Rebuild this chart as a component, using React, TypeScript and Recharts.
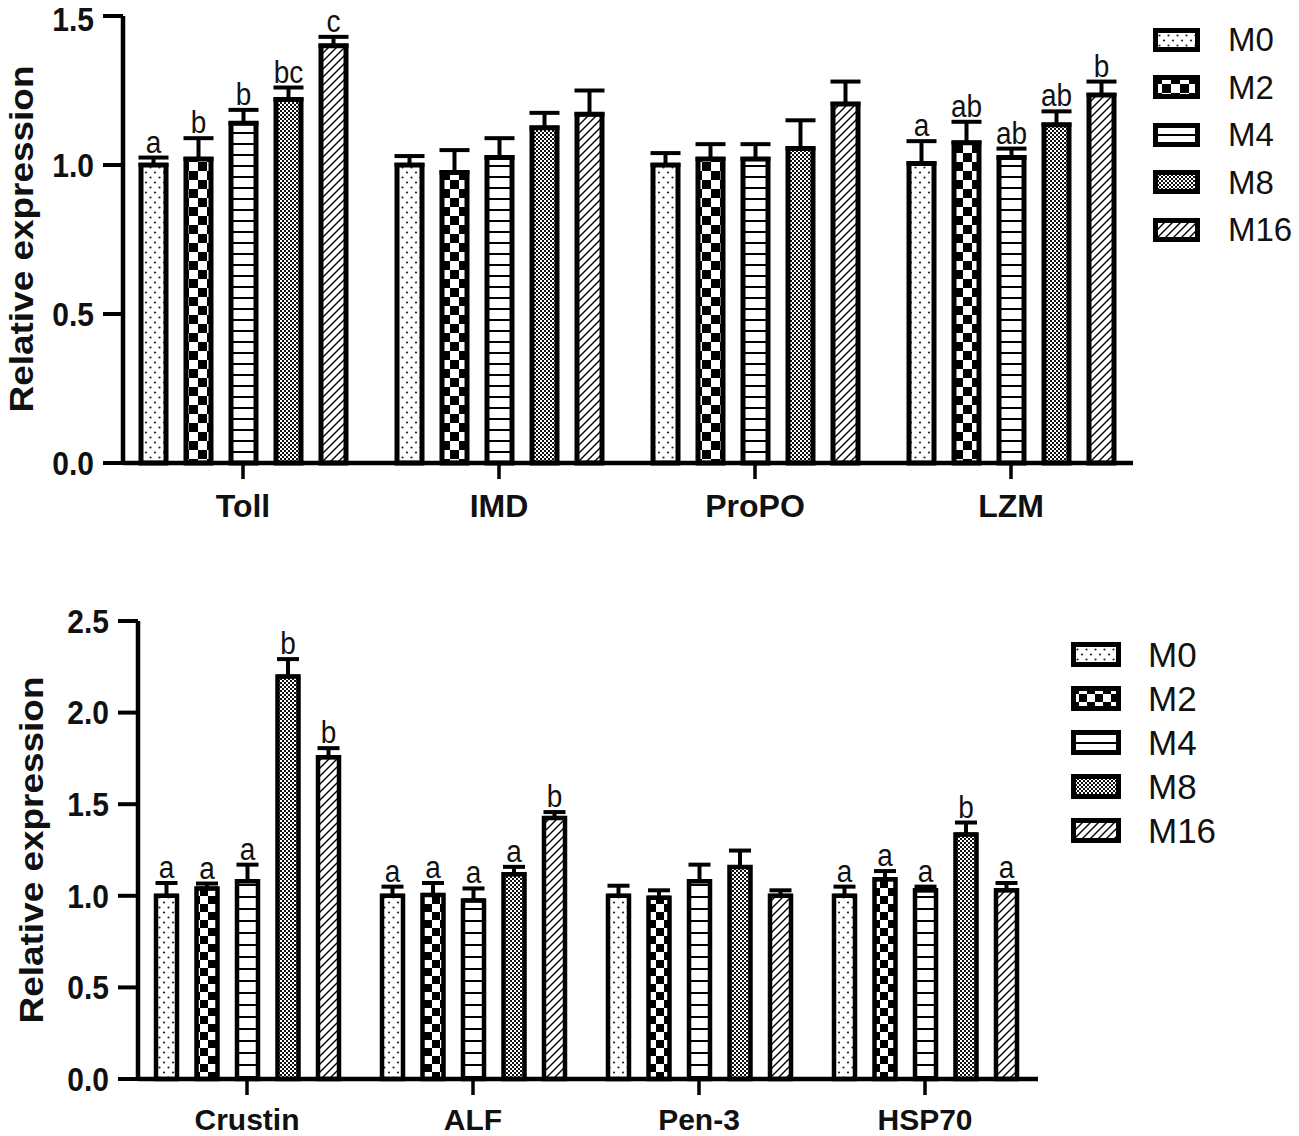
import React from "react";
import { BarChart, Bar, XAxis, YAxis, ErrorBar, LabelList, Legend } from "recharts";

const FONT = "'Liberation Sans', Arial, Helvetica, sans-serif";

const groups = ["M0", "M2", "M4", "M8", "M16"];

// upper panel
const topGenes = ["Toll", "IMD", "ProPO", "LZM"];
const tollMean = [1.0, 1.02, 1.14, 1.22, 1.4];
const tollErr = [0.025, 0.07, 0.045, 0.04, 0.03];
const tollSig = ["a", "b", "b", "bc", "c"];
const imdMean = [1.0, 0.975, 1.025, 1.125, 1.17];
const imdErr = [0.03, 0.075, 0.065, 0.05, 0.08];
const imdSig = ["", "", "", "", ""];
const propoMean = [1.0, 1.02, 1.02, 1.055, 1.205];
const propoErr = [0.04, 0.05, 0.05, 0.095, 0.075];
const propoSig = ["", "", "", "", ""];
const lzmMean = [1.005, 1.075, 1.025, 1.135, 1.235];
const lzmErr = [0.075, 0.07, 0.03, 0.045, 0.045];
const lzmSig = ["a", "ab", "ab", "ab", "b"];
const topTicks = [0, 0.5, 1.0, 1.5];

// lower panel
const bottomGenes = ["Crustin", "ALF", "Pen-3", "HSP70"];
const crustinMean = [1.0, 1.04, 1.08, 2.197, 1.756];
const crustinErr = [0.07, 0.027, 0.09, 0.095, 0.05];
const crustinSig = ["a", "a", "a", "b", "b"];
const alfMean = [1.0, 1.005, 0.975, 1.118, 1.425];
const alfErr = [0.05, 0.065, 0.065, 0.04, 0.032];
const alfSig = ["a", "a", "a", "a", "b"];
const pen3Mean = [1.0, 0.99, 1.08, 1.157, 1.0];
const pen3Err = [0.055, 0.04, 0.09, 0.09, 0.03];
const pen3Sig = ["", "", "", "", ""];
const hsp70Mean = [1.0, 1.09, 1.03, 1.335, 1.03];
const hsp70Err = [0.05, 0.045, 0.02, 0.065, 0.04];
const hsp70Sig = ["a", "a", "a", "b", "a"];
const bottomTicks = [0, 0.5, 1.0, 1.5, 2.0, 2.5];

function buildRows(genes: string[], means: number[][], errs: number[][], sigs: string[][]) {
  return genes.map((gene, i) => {
    const row: any = { gene };
    groups.forEach((g, j) => {
      row[g] = means[i][j];
      row[g + "e"] = [0, errs[i][j]];
      row[g + "s"] = sigs[i][j];
    });
    return row;
  });
}

const topRows = buildRows(
  topGenes,
  [tollMean, imdMean, propoMean, lzmMean],
  [tollErr, imdErr, propoErr, lzmErr],
  [tollSig, imdSig, propoSig, lzmSig]
);
const bottomRows = buildRows(
  bottomGenes,
  [crustinMean, alfMean, pen3Mean, hsp70Mean],
  [crustinErr, alfErr, pen3Err, hsp70Err],
  [crustinSig, alfSig, pen3Sig, hsp70Sig]
);

function patternDefs(p: string, cell: number, lineGap: number) {
  return (
    <defs>
      <pattern id={`${p}-M0`} patternUnits="userSpaceOnUse" width={9} height={10}>
        <rect width={9} height={10} fill="#fff" />
        <circle cx={2} cy={2.5} r={1.1} fill="#222" />
        <circle cx={6.5} cy={7.5} r={1.1} fill="#222" />
      </pattern>
      <pattern id={`${p}-M2`} patternUnits="userSpaceOnUse" width={cell * 2} height={cell * 2}>
        <rect width={cell * 2} height={cell * 2} fill="#fff" />
        <rect width={cell} height={cell} fill="#000" />
        <rect x={cell} y={cell} width={cell} height={cell} fill="#000" />
      </pattern>
      <pattern id={`${p}-M4`} patternUnits="userSpaceOnUse" width={10} height={lineGap}>
        <rect width={10} height={lineGap} fill="#fff" />
        <rect width={10} height={2} fill="#000" />
      </pattern>
      <pattern id={`${p}-M8`} patternUnits="userSpaceOnUse" width={4} height={4}>
        <rect width={4} height={4} fill="#111" />
        <rect width={2} height={2} fill="#fff" />
        <rect x={2} y={2} width={2} height={2} fill="#fff" />
      </pattern>
      <pattern id={`${p}-M16`} patternUnits="userSpaceOnUse" width={8} height={8}>
        <rect width={8} height={8} fill="#fff" />
        <path d="M0,8 L8,0 M-2,2 L2,-2 M6,10 L10,6" stroke="#000" strokeWidth={1.4} />
      </pattern>
    </defs>
  );
}

// top-most label is nudged down a little so it stays inside the page
const makeYTick = (nudgeTop: number) => (props: any) => {
  const { x, y, payload, index } = props;
  const shift = index === props.visibleTicksCount - 1 || payload.value === topTicks[topTicks.length - 1] ? nudgeTop : 0;
  return (
    <g transform={`translate(${x},${y + shift}) scale(1,1.13)`}>
      <text x={0} y={0} dy={10.5} textAnchor="end" fontSize={30} fontWeight="bold" fontFamily={FONT} fill="#111">
        {Number(payload.value).toFixed(1)}
      </text>
    </g>
  );
};

const makeXTick = (size: number, dy: number) => (props: any) => {
  const { x, y, payload } = props;
  return (
    <text x={x} y={y} dy={dy} textAnchor="middle" fontSize={size} fontWeight="bold" fontFamily={FONT} fill="#111">
      {payload.value}
    </text>
  );
};

const YTitle = ({ cx, cy }: { cx: number; cy: number }) => (
  <text
    transform={`translate(${cx},${cy}) scale(1,1.12) rotate(-90)`}
    textAnchor="middle"
    dominantBaseline="central"
    fontSize={33}
    fontWeight="bold"
    fontFamily={FONT}
    fill="#111"
  >
    Relative expression
  </text>
);

// letter above the error bar cap; value is "letter|err|mean"
const makeLetter = (size: number, gap: number) => (p: any) => {
  const vb = p.viewBox || {};
  const x = Number(p.x ?? vb.x);
  const y = Number(p.y ?? vb.y);
  const w = Number(p.width ?? vb.width);
  const h = Number(p.height ?? vb.height);
  const parts = String(p.value ?? "").split("|");
  if (!parts[0]) return null;
  const err = Number(parts[1]);
  const mean = Number(parts[2]);
  const capY = y - (err * h) / mean;
  return (
    <g transform={`translate(${x + w / 2},${capY - gap}) scale(1,1.1)`}>
      <text x={0} y={0} textAnchor="middle" fontSize={size} fontFamily={FONT} fill="#111">
        {parts[0]}
      </text>
    </g>
  );
};

const makeLegend = (p: string, boxW: number, boxH: number, rowH: number, textGap: number, size: number) => () => (
  <div style={{ fontFamily: FONT }}>
    {groups.map((g) => (
      <div key={g} style={{ height: rowH, display: "flex", alignItems: "center" }}>
        <svg width={boxW} height={boxH} style={{ marginRight: textGap, flex: "none" }}>
          <rect x={2.5} y={2.5} width={boxW - 5} height={boxH - 5} fill={`url(#${p}-${g})`} stroke="#000" strokeWidth={5} />
        </svg>
        <span style={{ fontSize: size, color: "#111", lineHeight: 1 }}>{g}</span>
      </div>
    ))}
  </div>
);

type PanelProps = {
  id: string;
  rows: any[];
  ticks: number[];
  max: number;
  width: number;
  height: number;
  margin: { top: number; right: number; left: number; bottom: number };
  padding: { left: number; right: number };
  barSize: number;
  barGap: number;
  barStroke: number;
  capWidth: number;
  cell: number;
  lineGap: number;
  xFont: number;
  xDy: number;
  nudgeTop: number;
  titleX: number;
  titleY: number;
  legend: { left: number; top: number; boxW: number; boxH: number; rowH: number; gap: number; size: number };
};

function Panel(c: PanelProps) {
  const XTick = makeXTick(c.xFont, c.xDy);
  const YTick = makeYTick(c.nudgeTop);
  const Letter = makeLetter(28, 5);
  return (
    <BarChart width={c.width} height={c.height} data={c.rows} margin={c.margin} barSize={c.barSize} barGap={c.barGap}>
      {patternDefs(c.id, c.cell, c.lineGap)}
      <XAxis
        dataKey="gene"
        interval={0}
        height={45}
        padding={c.padding}
        tickSize={16}
        tick={<XTick />}
        tickLine={{ stroke: "#000", strokeWidth: 3.5 }}
        axisLine={{ stroke: "#000", strokeWidth: 4.5 }}
      />
      <YAxis
        width={80}
        domain={[0, c.max]}
        ticks={c.ticks}
        tickSize={20}
        tickMargin={9}
        tick={<YTick />}
        tickLine={{ stroke: "#000", strokeWidth: 4 }}
        axisLine={{ stroke: "#000", strokeWidth: 4.5 }}
        label={<YTitle cx={c.titleX} cy={c.titleY} />}
      />
      <Legend
        layout="vertical"
        align="center"
        verticalAlign="middle"
        wrapperStyle={{ left: c.legend.left, top: c.legend.top, width: 170 }}
        content={makeLegend(c.id, c.legend.boxW, c.legend.boxH, c.legend.rowH, c.legend.gap, c.legend.size)}
      />
      {groups.map((g) => (
        <Bar
          key={g}
          dataKey={g}
          name={g}
          fill={`url(#${c.id}-${g})`}
          stroke="#000"
          strokeWidth={c.barStroke}
          isAnimationActive={false}
        >
          <ErrorBar dataKey={g + "e"} width={c.capWidth} strokeWidth={4} stroke="#000" />
          <LabelList
            dataKey={(r: any) => `${r[g + "s"]}|${r[g + "e"][1]}|${r[g]}`}
            content={<Letter />}
          />
        </Bar>
      ))}
    </BarChart>
  );
}

export default function App() {
  return (
    <div style={{ position: "relative", width: 1299, height: 1136, background: "#fff", fontFamily: FONT }}>
      <style>{"body{margin:0;background:#fff}"}</style>
      <div style={{ position: "absolute", left: 0, top: 0 }}>
        <Panel
          id="t"
          rows={topRows}
          ticks={topTicks}
          max={1.5}
          width={1299}
          height={540}
          margin={{ top: 16, right: 166, left: 43, bottom: 32 }}
          padding={{ left: -8, right: -6 }}
          barSize={25}
          barGap={20}
          barStroke={5}
          capWidth={15}
          cell={9}
          lineGap={11}
          xFont={32}
          xDy={36}
          nudgeTop={3}
          titleX={21}
          titleY={239}
          legend={{ left: 1153, top: 16, boxW: 47, boxH: 24, rowH: 47.5, gap: 28, size: 33 }}
        />
      </div>
      <div style={{ position: "absolute", left: 0, top: 560 }}>
        <Panel
          id="b"
          rows={bottomRows}
          ticks={bottomTicks}
          max={2.5}
          width={1299}
          height={576}
          margin={{ top: 61, right: 261, left: 58, bottom: 12 }}
          padding={{ left: -4, right: 0 }}
          barSize={21}
          barGap={19.5}
          barStroke={4.5}
          capWidth={11}
          cell={8}
          lineGap={12}
          xFont={30}
          xDy={33}
          nudgeTop={0}
          titleX={31}
          titleY={290}
          legend={{ left: 1071, top: 72, boxW: 50, boxH: 25, rowH: 44, gap: 27, size: 35 }}
        />
      </div>
    </div>
  );
}
